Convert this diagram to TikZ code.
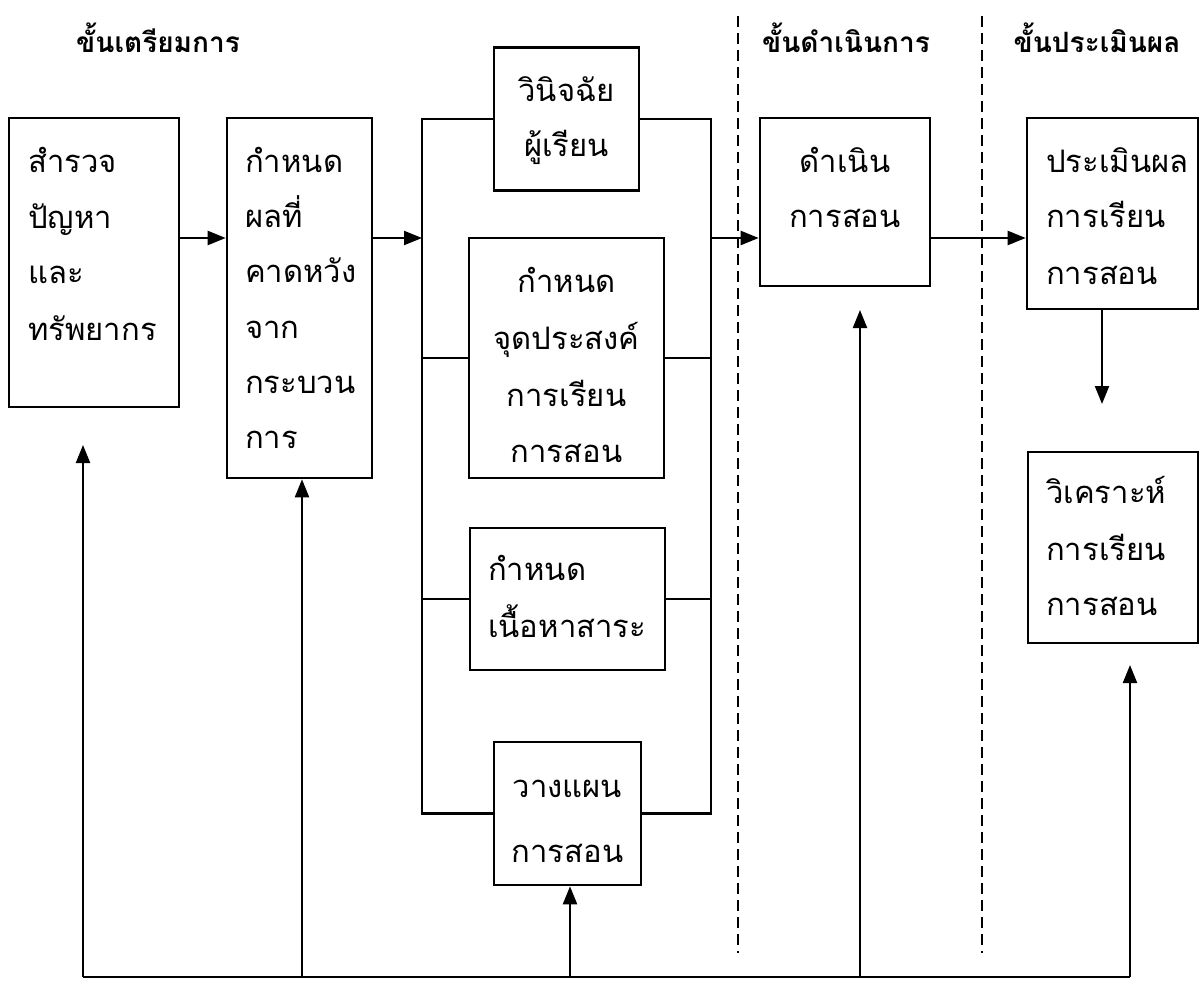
\documentclass[tikz,border=0pt]{standalone}
\usepackage{fontspec}
\newfontfamily\thai[Script=Thai]{Loma}
\usetikzlibrary{arrows.meta}
\tikzset{
  box/.style={draw, line width=2.6pt, rectangle, inner sep=0pt},
  txt/.style={inner sep=0pt, font=\thai\fontsize{31}{36}\selectfont},
  head/.style={inner sep=0pt, font=\thai\bfseries\fontsize{28}{34}\selectfont},
  ln/.style={line width=2.2pt},
  arr/.style={line width=2.2pt, -{Triangle[length=18pt,width=14pt]}},
  dsh/.style={line width=2pt, dash pattern=on 11pt off 6pt},
}
\begin{document}
\begin{tikzpicture}[x=1pt,y=-1pt]
\useasboundingbox (0,0) rectangle (1201,981);
% headings
\node[head, anchor=base] (h1) at (158,53) {ขั้นเตรียมการ};
\node[head, anchor=base] (h2) at (846,53) {ขั้นดำเนินการ};
\node[head, anchor=base] (h3) at (1097,53) {ขั้นประเมินผล};
% dashed separators
\coordinate (d1t) at (738,16); \coordinate (d1b) at (738,953);
\coordinate (d2t) at (982,16); \coordinate (d2b) at (982,953);
\draw[dsh] (d1t) -- (d1b);
\draw[dsh] (d2t) -- (d2b);
% boxes
\node[box, minimum width=170pt, minimum height=289pt] (A) at (94,262.5) {};
\node[box, minimum width=145pt, minimum height=360pt] (B) at (299.5,298) {};
\node[box, minimum width=145pt, minimum height=143pt] (D) at (566.5,119) {};
\node[box, minimum width=195pt, minimum height=240pt] (O) at (566.5,358) {};
\node[box, minimum width=195pt, minimum height=142pt] (C) at (567.5,599) {};
\node[box, minimum width=147pt, minimum height=143pt] (P) at (567.5,813.5) {};
\node[box, minimum width=170pt, minimum height=168pt] (E) at (845,202) {};
\node[box, minimum width=171pt, minimum height=191pt] (V) at (1112.5,213.5) {};
\node[box, minimum width=170pt, minimum height=191pt] (W) at (1113,547.5) {};
% texts box A
\node[txt, anchor=base west] (a1) at (28,173) {สำรวจ};
\node[txt, anchor=base west] (a2) at (28,229) {ปัญหา};
\node[txt, anchor=base west] (a3) at (28,284) {และ};
\node[txt, anchor=base west] (a4) at (28,340) {ทรัพยากร};
% box B
\node[txt, anchor=base west] (b1) at (245,173) {กำหนด};
\node[txt, anchor=base west] (b2) at (245,228) {ผลที่};
\node[txt, anchor=base west] (b3) at (245,283) {คาดหวัง};
\node[txt, anchor=base west] (b4) at (245,338) {จาก};
\node[txt, anchor=base west] (b5) at (245,393) {กระบวน};
\node[txt, anchor=base west] (b6) at (245,448) {การ};
% box D
\node[txt, anchor=base] (dd1) at (566.5,102) {วินิจฉัย};
\node[txt, anchor=base] (dd2) at (566.5,157) {ผู้เรียน};
% box O
\node[txt, anchor=base] (o1) at (566.5,293) {กำหนด};
\node[txt, anchor=base] (o2) at (566.5,349) {จุดประสงค์};
\node[txt, anchor=base] (o3) at (566.5,406) {การเรียน};
\node[txt, anchor=base] (o4) at (566.5,462) {การสอน};
% box C
\node[txt, anchor=base west] (c1) at (488,580) {กำหนด};
\node[txt, anchor=base west] (c2) at (488,637) {เนื้อหาสาระ};
% box P
\node[txt, anchor=base] (p1) at (567.5,797) {วางแผน};
\node[txt, anchor=base] (p2) at (567.5,862) {การสอน};
% box E
\node[txt, anchor=base] (e1) at (845,173) {ดำเนิน};
\node[txt, anchor=base] (e2) at (845,228) {การสอน};
% box V
\node[txt, anchor=base west] (v1) at (1046,173) {ประเมินผล};
\node[txt, anchor=base west] (v2) at (1046,228) {การเรียน};
\node[txt, anchor=base west] (v3) at (1046,285) {การสอน};
% box W
\node[txt, anchor=base west] (w1) at (1046,503) {วิเคราะห์};
\node[txt, anchor=base west] (w2) at (1046,560) {การเรียน};
\node[txt, anchor=base west] (w3) at (1046,615) {การสอน};
% bracket around the four planning boxes
\coordinate (brL) at (422,0);
\coordinate (brR) at (711,0);
\draw[ln] (D.west) -- (D.west -| brL) -- (P.west -| brL) -- (P.west);
\draw[ln] (D.east) -- (D.east -| brR) -- (P.east -| brR) -- (P.east);
\draw[ln] (O.west) -- (O.west -| brL);
\draw[ln] (O.east) -- (O.east -| brR);
\draw[ln] (C.west) -- (C.west -| brL);
\draw[ln] (C.east) -- (C.east -| brR);
% main flow arrows
\coordinate (row) at (0,238);
\draw[arr] (A.east |- row) -- (B.west |- row);
\draw[arr] (B.east |- row) -- (brL |- row);
\draw[arr] (brR |- row) -- (E.west |- row);
\draw[arr] (E.east |- row) -- (V.west |- row);
\coordinate (vd) at (1102,404);
\draw[arr] (V.south -| vd) -- (vd);
% feedback line
\coordinate (fA) at (83,977);
\coordinate (fB) at (302,977);
\coordinate (fP) at (570,977);
\coordinate (fE) at (860,977);
\coordinate (fW) at (1130,977);
\coordinate (tA) at (83,445);
\coordinate (tE) at (860,310);
\coordinate (tW) at (1130,665);
\draw[ln] (fA) -- (fW);
\draw[arr] (fA) -- (tA);
\draw[arr] (fB) -- (fB |- B.south);
\draw[arr] (fP) -- (fP |- P.south);
\draw[arr] (fE) -- (tE);
\draw[arr] (fW) -- (tW);
\end{tikzpicture}
\end{document}
